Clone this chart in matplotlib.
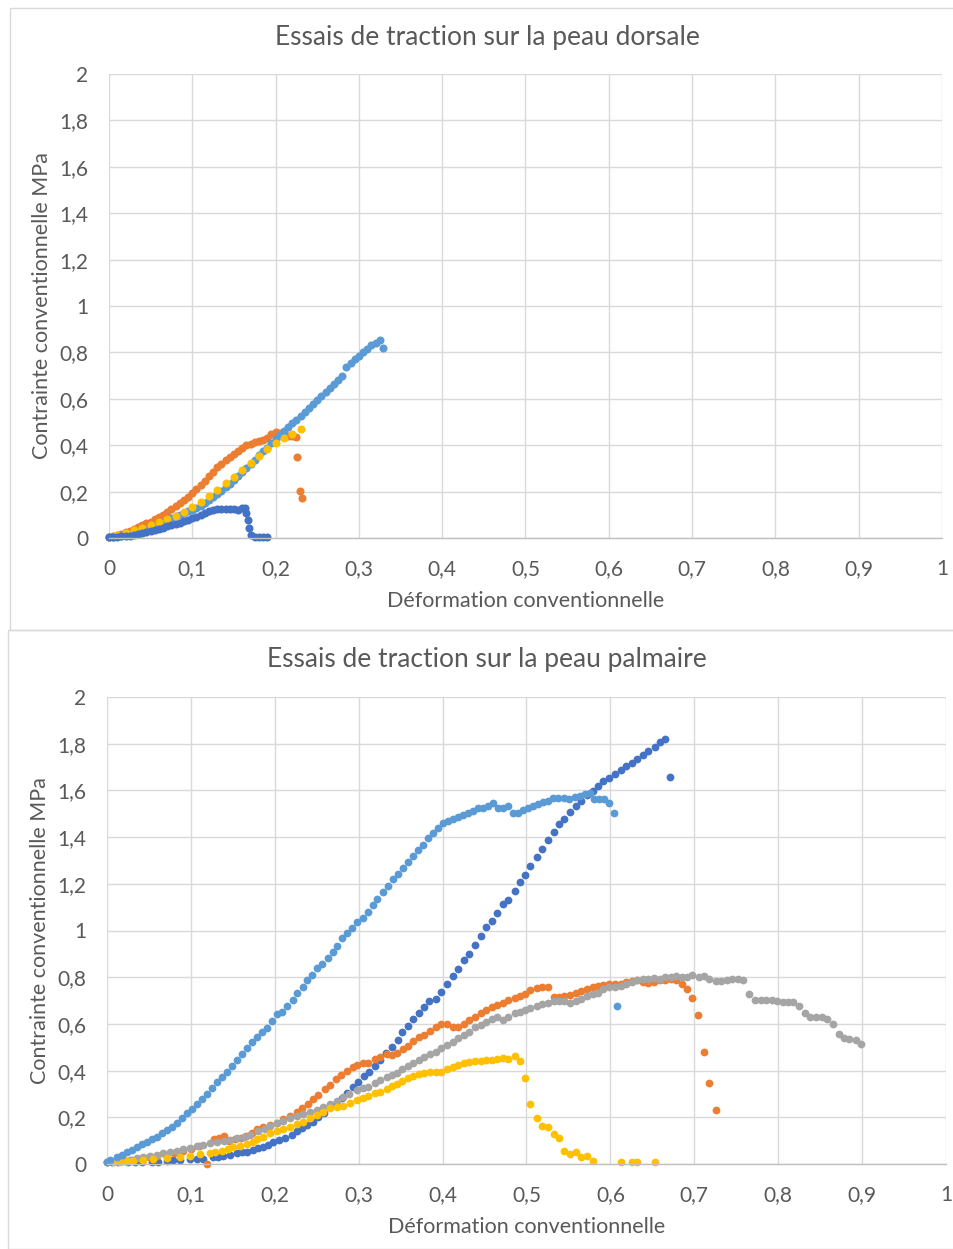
import matplotlib
matplotlib.use("Agg")
import matplotlib.pyplot as plt
from matplotlib.patches import Rectangle

plt.rcParams['font.family'] = ['Lato', 'DejaVu Sans']

# ---------------- data : top chart (peau dorsale) ----------------
top_title = "Essais de traction sur la peau dorsale"
bot_title = "Essais de traction sur la peau palmaire"
x_label = "Déformation conventionnelle"
y_label = "Contrainte conventionnelle MPa"
x_ticks = [0, 0.1, 0.2, 0.3, 0.4, 0.5, 0.6, 0.7, 0.8, 0.9, 1.0]
x_tick_labels = ["0", "0,1", "0,2", "0,3", "0,4", "0,5", "0,6", "0,7", "0,8", "0,9", "1"]
y_ticks = [0, 0.2, 0.4, 0.6, 0.8, 1.0, 1.2, 1.4, 1.6, 1.8, 2.0]
y_tick_labels = ["0", "0,2", "0,4", "0,6", "0,8", "1", "1,2", "1,4", "1,6", "1,8", "2"]

dors_orange_x = [0, .005, .01, .015, .02, .025, .03, .035, .04, .045, .05, .055, .06, .065, .07, .075, .08,
                 .085, .09, .095, .1, .105, .11, .115, .12, .125, .13, .135, .14, .145, .15, .155, .16, .165,
                 .17, .175, .18, .185, .19, .195, .2, .205, .21, .215, .22, .225, .226, .229, .232]
dors_orange_y = [.005, .008, .013, .018, .024, .031, .038, .046, .054, .063, .071, .081, .09, .1, .112, .124,
                 .136, .149, .163, .178, .194, .21, .228, .247, .268, .286, .304, .32, .336, .35, .363, .375,
                 .388, .4, .407, .413, .417, .422, .43, .45, .456, .451, .445, .44, .438, .437, .35, .204, .171]

dors_lblue_x = [0, .005, .01, .015, .02, .025, .03, .035, .04, .045, .05, .055, .06, .065, .07, .075, .08,
                .085, .09, .095, .1, .105, .11, .115, .12, .125, .13, .135, .14, .145, .15, .155, .16, .165,
                .17, .175, .18, .185, .19, .195, .2, .205, .21, .215, .22, .225, .23, .235, .24, .245, .25,
                .255, .26, .265, .27, .275, .28, .285, .29, .295, .3, .305, .31, .315, .32, .325, .329]
dors_lblue_y = [.004, .005, .007, .009, .012, .015, .019, .023, .028, .033, .045, .053, .061, .07, .078, .085,
                .093, .1, .108, .116, .12, .13, .14, .151, .162, .175, .188, .203, .218, .234, .25, .267, .285,
                .302, .32, .338, .356, .373, .39, .408, .425, .442, .46, .477, .494, .51, .526, .543, .56, .577,
                .594, .611, .628, .645, .662, .68, .70, .735, .755, .77, .785, .80, .815, .83, .842, .853, .818]

dors_yellow_x = [0, .01, .02, .03, .04, .05, .06, .07, .08, .09, .1, .11, .12, .13, .14, .15, .16, .17, .18,
                 .19, .2, .21, .22, .23]
dors_yellow_y = [.005, .012, .02, .034, .045, .056, .068, .08, .096, .113, .134, .157, .182, .207, .236, .264,
                 .295, .325, .353, .382, .408, .432, .447, .468]

dors_dblue_x = [0, .005, .01, .015, .02, .025, .03, .035, .04, .045, .05, .055, .06, .065, .07, .075, .08,
                .085, .09, .095, .1, .105, .11, .115, .12, .125, .13, .135, .14, .145, .15, .155, .16, .163,
                .165, .167, .168, .171, .175, .18, .185, .19]
dors_dblue_y = [.005, .005, .006, .007, .008, .01, .013, .016, .02, .024, .029, .034, .039, .045, .05, .056,
                .061, .066, .072, .078, .085, .092, .1, .108, .115, .12, .124, .126, .127, .126, .124, .122,
                .13, .13, .106, .078, .042, .013, .006, .005, .005, .005]

# ---------------- data : bottom chart (peau palmaire) ----------------
palm_dblue_x = [0, .0056, .0135, .0254, .0334, .0413, .0532, .0612, .0711, .079, .087, .0989, .1069, .1148,
                .1268, .1327, .1387, .1466, .1546, .1605, .1665, .1744, .1804, .1864, .1923, .1983, .2054,
                .2122, .2201, .2261, .232, .2388, .2459, .2519, .2586, .2658, .273, .2797, .2857, .2928,
                .2996, .3063, .3127, .3194, .3254, .3325, .3393, .3464, .3512, .3584, .3651, .3718, .3782,
                .3842, .3922, .3981, .4048, .412, .4188, .4256, .431, .439, .4454, .4517, .4589, .4652,
                .4716, .478, .4859, .4922, .4982, .5042, .5121, .5189, .5252, .5324, .5392, .5451, .5515,
                .5594, .5654, .5718, .5789, .5856, .5916, .598, .6058, .6122, .6186, .6253, .6321, .6388,
                .6452, .6528, .6591, .6655, .6714]
palm_dblue_y = [.01, .01, .01, .01, .01, .01, .01, .01, .014, .017, .017, .02, .02, .02, .031, .031, .034,
                .039, .046, .05, .053, .06, .067, .074, .081, .093, .103, .11, .124, .143, .153, .167, .181,
                .203, .22, .243, .257, .281, .303, .328, .353, .377, .396, .42, .446, .474, .503, .531, .564,
                .592, .62, .648, .671, .698, .705, .738, .77, .805, .837, .873, .899, .937, .977, 1.013,
                1.039, 1.073, 1.113, 1.131, 1.169, 1.209, 1.238, 1.276, 1.316, 1.349, 1.388, 1.422, 1.455,
                1.478, 1.506, 1.535, 1.556, 1.579, 1.597, 1.619, 1.64, 1.652, 1.67, 1.687, 1.705, 1.719,
                1.736, 1.753, 1.77, 1.787, 1.807, 1.822, 1.659]

palm_orange_x = [0, .01, .02, .03, .04, .05, .06, .07, .08, .09, .1, .11, .119, .127, .133, .139, .146, .153,
                 .16, .166, .1724, .1784, .1864, .1943, .2022, .2102, .2181, .2261, .232, .24, .2459, .2519,
                 .2598, .2658, .2725, .2785, .2857, .2928, .2984, .3055, .3115, .3194, .3254, .3334, .3393,
                 .3453, .3524, .3592, .3651, .3718, .3782, .385, .3922, .3981, .4048, .412, .4188, .4256,
                 .431, .439, .4454, .4517, .4589, .4652, .4716, .478, .4859, .4922, .4982, .5042, .5121,
                 .5189, .5252, .5324, .5384, .5451, .5515, .5594, .5654, .5718, .5789, .5856, .5916, .598,
                 .6058, .6122, .6186, .6253, .6321, .6388, .6452, .6519, .6591, .6655, .6718, .6782, .685,
                 .6909, .6977, .7048, .7119, .7179, .7258]
palm_orange_y = [.01, .012, .015, .018, .022, .028, .033, .04, .047, .055, .065, .075, 0.0, .107, .113, .12,
                 .1, .105, .112, .12, .131, .148, .16, .167, .174, .191, .206, .224, .238, .257, .277, .296,
                 .32, .338, .362, .381, .4, .417, .424, .431, .434, .448, .46, .471, .467, .477, .491, .505,
                 .528, .545, .552, .57, .588, .598, .598, .588, .588, .6, .617, .628, .645, .66, .674, .681,
                 .691, .702, .712, .719, .728, .745, .752, .756, .759, .714, .717, .721, .724, .734, .742,
                 .748, .759, .763, .766, .773, .773, .773, .779, .784, .787, .78, .776, .78, .787, .79, .794,
                 .787, .77, .75, .712, .638, .481, .345, .231]

palm_gray_x = [.02, .028, .036, .043, .051, .059, .067, .075, .083, .091, .099, .107, .115, .123, .131, .139,
               .147, .155, .163, .1704, .1804, .1883, .1943, .2022, .2102, .2181, .2261, .234, .242, .2499,
               .2578, .2658, .2737, .2817, .2888, .2976, .3055, .3115, .3194, .3254, .3334, .3393, .3453,
               .3512, .3584, .3651, .3718, .3782, .385, .3922, .3981, .4048, .412, .4188, .4256, .431, .439,
               .4454, .4517, .4589, .4652, .4716, .478, .4859, .4922, .4982, .5042, .5121, .5189, .5252,
               .5324, .5384, .5451, .5515, .5594, .5654, .5718, .5789, .5856, .5916, .598, .6058, .6122,
               .6186, .6253, .6321, .6388, .6452, .6519, .6591, .6655, .6718, .6782, .685, .6909, .6977,
               .706, .7119, .7179, .7258, .7318, .7386, .7446, .7525, .7585, .7648, .7724, .7791, .7855,
               .7922, .799, .8054, .8113, .8181, .8253, .832, .838, .8451, .8519, .8578, .865, .8725, .8788,
               .8848, .8927, .8987]
palm_gray_y = [.012, .018, .024, .029, .035, .04, .045, .05, .057, .064, .07, .076, .082, .088, .094, .099,
               .104, .11, .116, .124, .141, .152, .164, .174, .185, .195, .205, .214, .224, .231, .243, .257,
               .27, .288, .3, .317, .327, .328, .345, .36, .371, .381, .391, .405, .421, .434, .446, .457,
               .47, .481, .495, .51, .524, .538, .553, .567, .586, .596, .606, .62, .629, .617, .629, .646,
               .653, .66, .667, .677, .685, .691, .698, .699, .698, .691, .699, .708, .72, .727, .734, .748,
               .76, .76, .764, .77, .781, .788, .791, .794, .795, .794, .8, .8, .805, .802, .8, .811, .802,
               .806, .793, .784, .784, .788, .793, .793, .788, .727, .704, .704, .704, .704, .7, .694, .694,
               .694, .677, .648, .631, .631, .631, .621, .598, .558, .541, .535, .53, .513]

palm_yellow_x = [0, .008, .016, .024, .0314, .0433, .0552, .0711, .087, .0989, .1108, .1228, .1287, .1367,
                 .1446, .1506, .1585, .1665, .1744, .1784, .1864, .1943, .2022, .2102, .2181, .2261, .234,
                 .242, .2499, .2578, .2658, .2737, .2817, .2896, .2976, .3055, .3115, .3194, .3254, .3334,
                 .3393, .3453, .3512, .3584, .3651, .3718, .3782, .385, .3922, .3981, .4048, .412, .4188,
                 .4256, .431, .439, .4454, .4517, .4589, .4652, .4716, .478, .4859, .4922, .4982, .5042,
                 .5121, .5189, .5252, .5324, .5392, .5451, .5515, .5594, .5654, .5718, .5789, .6122, .6253,
                 .6321, .6528]
palm_yellow_y = [.01, .01, .01, .012, .013, .017, .02, .024, .031, .034, .043, .048, .053, .057, .064, .071,
                 .077, .084, .093, .106, .117, .131, .141, .152, .16, .171, .181, .195, .21, .224, .238, .242,
                 .248, .26, .274, .284, .291, .305, .31, .32, .334, .341, .355, .37, .377, .385, .391, .395,
                 .395, .395, .405, .416, .424, .431, .435, .441, .441, .445, .445, .45, .455, .45, .463, .441,
                 .367, .255, .198, .164, .16, .127, .11, .057, .041, .053, .031, .035, .012, .007, .007, .007,
                 .007]

palm_lblue_x = [0, .0036, .0115, .0175, .0234, .0294, .0354, .0413, .0473, .0532, .0592, .0652, .0711, .0771,
                .083, .089, .0949, .1009, .1069, .1128, .1188, .1248, .1307, .1367, .1427, .1486, .1546, .1605,
                .1665, .1724, .1784, .1844, .1903, .1963, .2022, .2082, .2142, .2213, .2269, .2333, .238, .244,
                .2507, .2566, .263, .269, .2745, .2805, .2864, .2924, .2984, .3047, .3107, .3166, .3222, .3286,
                .3345, .3405, .3464, .3532, .3584, .3643, .3703, .3771, .3831, .3889, .3941, .4001, .4061,
                .4128, .4188, .4247, .4307, .4358, .4418, .4486, .4545, .4605, .4664, .4724, .4783, .4843,
                .4903, .4962, .5022, .5081, .5141, .5201, .526, .532, .538, .5447, .5511, .5578, .5638, .5697,
                .5757, .5809, .5868, .5928, .598, .6043, .608]
palm_lblue_y = [.01, .017, .029, .039, .05, .06, .074, .084, .096, .106, .117, .131, .146, .16, .177, .195,
                .217, .234, .255, .278, .3, .324, .35, .374, .395, .421, .445, .469, .495, .524, .545, .566,
                .584, .614, .642, .652, .677, .702, .731, .759, .788, .809, .838, .855, .884, .909, .934, .966,
                .988, 1.009, 1.035, 1.052, 1.081, 1.109, 1.135, 1.164, 1.191, 1.219, 1.242, 1.266, 1.295,
                1.32, 1.345, 1.366, 1.395, 1.416, 1.44, 1.459, 1.469, 1.479, 1.484, 1.495, 1.502, 1.512,
                1.523, 1.523, 1.533, 1.545, 1.523, 1.523, 1.535, 1.502, 1.502, 1.516, 1.526, 1.533, 1.54,
                1.549, 1.556, 1.569, 1.569, 1.566, 1.563, 1.573, 1.577, 1.583, 1.588, 1.563, 1.563, 1.562,
                1.547, 1.502, .677]

C_DBLUE = "#4472C4"
C_ORANGE = "#ED7D31"
C_GRAY = "#A5A5A5"
C_YELLOW = "#FFC000"
C_LBLUE = "#5B9BD5"
TXT = "#595959"
GRID = "#D9D9D9"

W, H = 954, 1249
fig = plt.figure(figsize=(W / 100, H / 100), dpi=100)
fig.patch.set_facecolor("white")

# chart frames
fig.patches.append(Rectangle((10 / W, 1 - 630 / H), 950 / W, 622 / H, transform=fig.transFigure,
                             fill=False, edgecolor=GRID, linewidth=1.0))
fig.patches.append(Rectangle((8 / W, 1 - 1249 / H), 950 / W, 619 / H, transform=fig.transFigure,
                             fill=False, edgecolor=GRID, linewidth=1.0))

FS_TICK = 15
FS_LAB = 15.5
FS_TITLE = 19


def style(ax):
    ax.set_xlim(0, 1)
    ax.set_ylim(0, 2)
    ax.set_xticks(x_ticks)
    ax.set_xticklabels(x_tick_labels)
    ax.set_yticks(y_ticks)
    ax.set_yticklabels(y_tick_labels)
    ax.grid(True, color=GRID, linewidth=1.0)
    ax.set_axisbelow(True)
    for s in ("left", "top", "right"):
        ax.spines[s].set_visible(False)
    ax.spines["bottom"].set_color("#BFBFBF")
    ax.spines["bottom"].set_linewidth(1.0)
    ax.tick_params(axis="both", length=0, labelsize=FS_TICK, labelcolor=TXT)
    ax.tick_params(axis="x", pad=15)
    ax.tick_params(axis="y", pad=15)
    ax.set_xlabel(x_label, fontsize=FS_LAB, color=TXT, labelpad=9)
    ax.set_ylabel(y_label, fontsize=FS_LAB, color=TXT, labelpad=5)


# top chart
ax1 = fig.add_axes([109 / W, 1 - 538 / H, 833 / W, 464 / H])
style(ax1)
fig.text(487 / W, 1 - 37 / H, top_title, fontsize=FS_TITLE, color=TXT, ha="center", va="center")
for xs, ys, c in [(dors_orange_x, dors_orange_y, C_ORANGE),
                  (dors_lblue_x, dors_lblue_y, C_LBLUE),
                  (dors_yellow_x, dors_yellow_y, C_YELLOW),
                  (dors_dblue_x, dors_dblue_y, C_DBLUE)]:
    ax1.plot(xs, ys, linestyle="none", marker="o", markersize=5.8, markeredgewidth=0, color=c, clip_on=False)

# bottom chart
ax2 = fig.add_axes([107 / W, 1 - 1164 / H, 839 / W, 467 / H])
style(ax2)
fig.text(487 / W, 1 - 660 / H, bot_title, fontsize=FS_TITLE, color=TXT, ha="center", va="center")
for xs, ys, c in [(palm_dblue_x, palm_dblue_y, C_DBLUE),
                  (palm_orange_x, palm_orange_y, C_ORANGE),
                  (palm_gray_x, palm_gray_y, C_GRAY),
                  (palm_yellow_x, palm_yellow_y, C_YELLOW),
                  (palm_lblue_x, palm_lblue_y, C_LBLUE)]:
    ax2.plot(xs, ys, linestyle="none", marker="o", markersize=5.6, markeredgewidth=0, color=c, clip_on=False)

fig.savefig("out.png", dpi=100)
